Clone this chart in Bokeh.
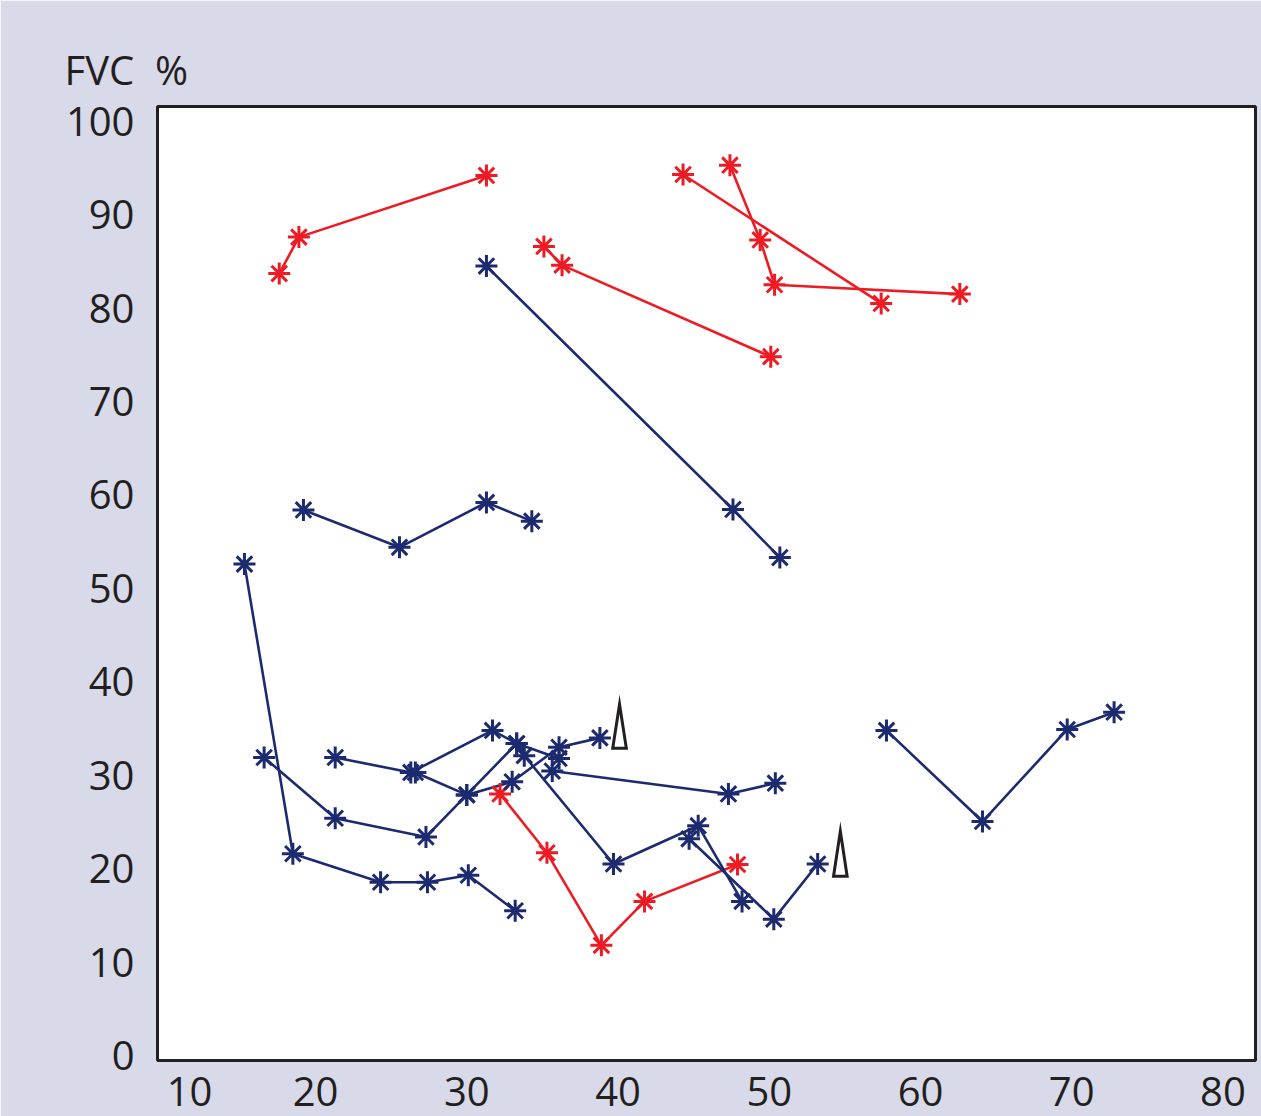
import math
from bokeh.plotting import figure
from bokeh.models import FixedTicker, Range1d
from bokeh.embed import file_html
from bokeh.resources import INLINE

# ---------------- data ----------------
x_ticks = [10, 20, 30, 40, 50, 60, 70, 80]
y_ticks = [0, 10, 20, 30, 40, 50, 60, 70, 80, 90, 100]
y_title = "FVC\u00a0 %"

# red series
red1_x = [17.6, 18.9, 31.3]
red1_y = [83.7, 87.6, 94.2]
red2_x = [35.1, 36.3, 50.1]
red2_y = [86.6, 84.6, 74.8]
red3_x = [44.3, 57.4]
red3_y = [94.3, 80.5]
red4_x = [47.4, 49.4, 50.35, 62.6]
red4_y = [95.3, 87.3, 82.5, 81.5]
red5_x = [32.2, 35.3, 38.9, 41.75, 47.9]
red5_y = [28.0, 21.7, 11.8, 16.5, 20.45]

# blue series
blue1_x = [31.3, 47.6, 50.7]
blue1_y = [84.5, 58.45, 53.3]
blue2_x = [19.2, 25.55, 31.3, 34.3]
blue2_y = [58.4, 54.4, 59.2, 57.2]
blue3_x = [15.3, 18.5, 24.3, 27.4, 30.1, 33.2]
blue3_y = [52.6, 21.6, 18.55, 18.55, 19.3, 15.5]
blue4_x = [16.6, 21.3, 27.3, 30.0, 33.0, 36.1, 38.8]
blue4_y = [31.9, 25.4, 23.4, 27.9, 29.3, 33.0, 34.0]
blue5_x = [21.3, 26.3, 31.7, 33.3, 36.1]
blue5_y = [31.9, 30.3, 34.8, 33.4, 31.8]
blue6_x = [26.6, 30.0, 33.3, 33.8, 39.7, 45.3, 48.2]
blue6_y = [30.3, 27.9, 33.4, 32.1, 20.5, 24.6, 16.5]
blue7_x = [35.65, 47.3, 50.4]
blue7_y = [30.45, 28.0, 29.15]
blue8_x = [44.7, 50.3, 53.2]
blue8_y = [23.2, 14.6, 20.5]
blue9_x = [57.75, 64.1, 69.7, 72.8]
blue9_y = [34.8, 25.05, 34.9, 36.75]

# wedge symbols (x centre, base y, apex y)
wedge_x = [40.1, 54.7]
wedge_base = [32.9, 19.2]
wedge_top = [37.6, 24.0]

# ---------------- styles ----------------
BG = "#d9dae9"
RED = "#ed1c24"
BLUE = "#1c2b6f"
INK = "#231f20"
FONT = "Open Sans"
FSIZE = "40px"
WEDGE_HALF = 0.45
FIRST_LABEL_SHIFT = 1.67  # keeps the first x label clear of the corner

p = figure(width=1261, height=1116, output_backend="svg", toolbar_location=None,
           x_range=Range1d(9.55, 82.15), y_range=Range1d(-0.53, 101.58),
           min_border_left=157, min_border_right=6, min_border_top=106,
           min_border_bottom=56)
p.background_fill_color = "white"
p.border_fill_color = BG
p.outline_line_color = INK
p.outline_line_width = 3
p.grid.visible = False

# axes
x_positions = [x_ticks[0] + FIRST_LABEL_SHIFT] + x_ticks[1:]
p.xaxis.ticker = FixedTicker(ticks=x_positions)
p.xaxis.major_label_overrides = {pos: str(t) for pos, t in zip(x_positions, x_ticks)}
p.yaxis.ticker = FixedTicker(ticks=y_ticks)
for ax in (p.xaxis[0], p.yaxis[0]):
    ax.axis_line_color = None
    ax.major_tick_line_color = None
    ax.minor_tick_line_color = None
    ax.major_label_text_font = FONT
    ax.major_label_text_font_size = FSIZE
    ax.major_label_text_color = INK
p.xaxis.major_label_standoff = 10
p.yaxis.major_label_standoff = 17

p.title.text = y_title
p.title.align = "left"
p.title.offset = -93
p.title.text_font = FONT
p.title.text_font_size = FSIZE
p.title.text_font_style = "normal"
p.title.text_color = INK
p.title.standoff = 20

series = [
    (red1_x, red1_y, RED), (red2_x, red2_y, RED), (red3_x, red3_y, RED),
    (red4_x, red4_y, RED), (red5_x, red5_y, RED),
    (blue1_x, blue1_y, BLUE), (blue2_x, blue2_y, BLUE), (blue3_x, blue3_y, BLUE),
    (blue4_x, blue4_y, BLUE), (blue5_x, blue5_y, BLUE), (blue6_x, blue6_y, BLUE),
    (blue7_x, blue7_y, BLUE), (blue8_x, blue8_y, BLUE), (blue9_x, blue9_y, BLUE),
]
for xs, ys, col in series:
    p.line(xs, ys, line_color=col, line_width=2.6)
for xs, ys, col in series:
    p.scatter(xs, ys, marker="asterisk", size=22, angle=math.pi / 2,
              line_color=col, line_width=3)

# wedges
wx = [[x - WEDGE_HALF, x, x + WEDGE_HALF] for x in wedge_x]
wy = [[b, t, b] for b, t in zip(wedge_base, wedge_top)]
p.patches(wx, wy, fill_color="white", line_color=INK, line_width=3,
          line_join="miter")

open("out.html", "w").write(file_html(p, INLINE))
